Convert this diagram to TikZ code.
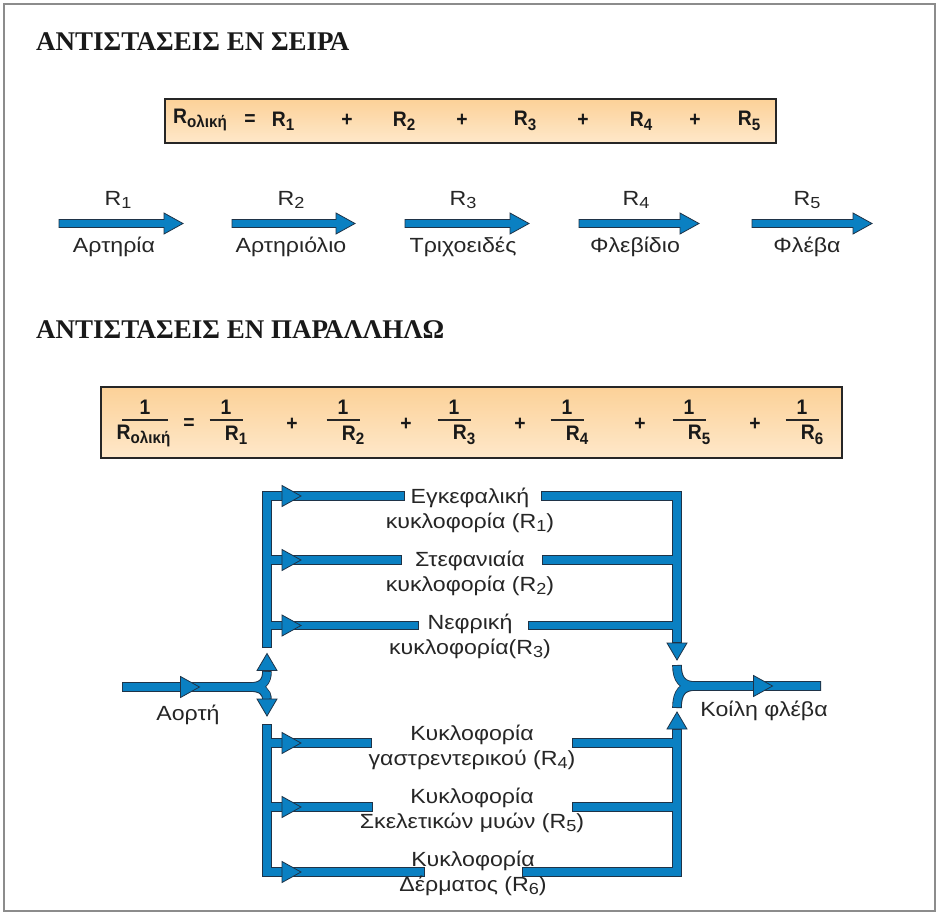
\documentclass[tikz,border=0pt]{standalone}
\usepackage{fontspec}
\setmainfont{Liberation Sans}
\newfontfamily\titlefont{Liberation Serif}
\newfontfamily\lblfont{Liberation Sans}[FakeStretch=1.13]
\newfontfamily\eqfont{Liberation Sans}[FakeStretch=0.92]
\definecolor{pipeblue}{HTML}{0A80C2}
\definecolor{pipeedge}{HTML}{1F3347}
\definecolor{boxtop}{HTML}{FCD198}
\definecolor{boxbot}{HTML}{FEE8CA}
\definecolor{framegray}{HTML}{8C8C8C}
\newcommand\lowsub[1]{\raisebox{-0.3ex}{\fontsize{16}{16}\selectfont #1}}
\newcommand\eqsub[1]{\raisebox{-0.4ex}{\fontsize{16.5}{16.5}\selectfont\bfseries #1}}
\tikzset{
  pipeout/.style={draw=pipeedge,line width=9.6pt},
  pipein/.style={draw=pipeblue,line width=7.8pt,shorten <=0.9pt,shorten >=0.9pt},
  head/.style={fill=pipeblue,draw=pipeedge,line width=0.8pt,line join=miter},
  lbl/.style={inner sep=0pt,font=\lblfont\fontsize{20.5}{25}\selectfont,align=center,text=black!85},
  title/.style={anchor=base west,inner sep=0pt,font=\titlefont\bfseries\fontsize{27}{27}\selectfont,text=black!90},
  eq/.style={inner sep=0pt,font=\eqfont\bfseries\fontsize{21}{21}\selectfont,text=black!90},
  eqbox/.style={draw=black!85,line width=1.3pt,top color=boxtop,bottom color=boxbot,inner sep=0pt},
  fracbar/.style={draw=black!85,line width=1.1pt},
  pics/rhead/.style={code={\draw[head] (-9.5,-10.5) -- (9.5,0) -- (-9.5,10.5) -- cycle;}},
  pics/dhead/.style={code={\draw[head] (-10,-8.5) -- (0,8.5) -- (10,-8.5) -- cycle;}},
  pics/uhead/.style={code={\draw[head] (-10,8.5) -- (0,-8.5) -- (10,8.5) -- cycle;}},
  pics/fatarrow/.style={code={\draw[head] (0,-4) -- ({#1-19},-4) -- ({#1-19},-10.5) -- (#1,0) -- ({#1-19},10.5) -- ({#1-19},4) -- (0,4) -- cycle;}}
}
\newcommand\pipenet[1]{%
  \draw[#1] (aortaL) -- (forkL) .. controls (262,687) and (267,682) .. (upL);
  \draw[#1] (forkL) .. controls (262,687) and (267,692) .. (dnL);
  \draw[#1] (lb1) -- (lc1) -- (b1L);
  \draw[#1] (b2s) -- (b2L);
  \draw[#1] (b3s) -- (b3L);
  \draw[#1] (b1R) -- (rc1) -- (rb);
  \draw[#1] (b2R) -- (j2);
  \draw[#1] (b3R) -- (j3);
  \draw[#1] (fu) .. controls (677,680) and (683,686) .. (fm) -- (veinR);
  \draw[#1] (fd) .. controls (677,692) and (683,686) .. (fm);
  \draw[#1] (lt2) -- (lc2) -- (b6L);
  \draw[#1] (b4s) -- (b4L);
  \draw[#1] (b5s) -- (b5L);
  \draw[#1] (b6R) -- (rc2) -- (ru);
  \draw[#1] (b4R) -- (j4);
  \draw[#1] (b5R) -- (j5);
}
\begin{document}
\begin{tikzpicture}[x=1pt,y=-1pt]
\useasboundingbox (0,0) rectangle (939,916);
\fill[white] (0,0) rectangle (939,916);
\draw[framegray,line width=2.5pt] (4,4) rectangle (935,911);

% titles
\node[title] (t1) at (36,50) {ΑΝΤΙΣΤΑΣΕΙΣ ΕΝ ΣΕΙΡΑ};
\node[title] (t2) at (36,338) {ΑΝΤΙΣΤΑΣΕΙΣ ΕΝ ΠΑΡΑΛΛΗΛΩ};

% series equation
\node[eqbox,minimum width=611pt,minimum height=44pt] (box1) at (470.5,121) {};
\node[eq,anchor=west] (rt1) at (173,120) {R\eqsub{ολική}};
\node[eq] (eq1) at (250,120) {=};
\node[eq] (s1) at (283,121) {R\eqsub{1}};
\node[eq] (p1) at (347,120) {+};
\node[eq] (s2) at (404,121) {R\eqsub{2}};
\node[eq] (p2) at (462,120) {+};
\node[eq] (s3) at (525,121) {R\eqsub{3}};
\node[eq] (p3) at (583,120) {+};
\node[eq] (s4) at (641,121) {R\eqsub{4}};
\node[eq] (p4) at (695,120) {+};
\node[eq] (s5) at (749,121) {R\eqsub{5}};

% series arrows
\pic at (59,223.5) {fatarrow=124};
\pic at (232,223.5) {fatarrow=123};
\pic at (405,223.5) {fatarrow=124};
\pic at (579,223.5) {fatarrow=120};
\pic at (752,223.5) {fatarrow=120};
\node[lbl] (r1) at (118,200) {R\lowsub{1}};
\node[lbl] (r2) at (291,200) {R\lowsub{2}};
\node[lbl] (r3) at (463,200) {R\lowsub{3}};
\node[lbl] (r4) at (636,200) {R\lowsub{4}};
\node[lbl] (r5) at (807,200) {R\lowsub{5}};
\node[lbl] (n1) at (114,247) {Αρτηρία};
\node[lbl] (n2) at (291,247) {Αρτηριόλιο};
\node[lbl] (n3) at (463,247) {Τριχοειδές};
\node[lbl] (n4) at (635,247) {Φλεβίδιο};
\node[lbl] (n5) at (807,247) {Φλέβα};

% parallel equation
\node[eqbox,minimum width=741pt,minimum height=71pt] (box2) at (471.5,422.5) {};
\node[eq] (f0n) at (145,407) {1};
\draw[fracbar] (122,420) -- (168,420);
\node[eq] (f0d) at (143.5,436) {R\eqsub{ολική}};
\node[eq] (eq2) at (189,424) {=};
\foreach \x/\i in {226/1,343/2,454/3,567/4,689/5,802/6}{
  \node[eq] (fn\i) at (\x,407) {1};
  \draw[fracbar] (\x-16.5,420) -- (\x+16.5,420);
  \node[eq] (fd\i) at (\x+10,435) {R\eqsub{\i}};
}
\foreach \x/\i in {292/1,406/2,520/3,640/4,755/5}{
  \node[eq] (q\i) at (\x,424) {+};
}

% network coordinates
\coordinate (aortaL) at (122,687);
\coordinate (forkL) at (250,687);
\coordinate (upL) at (267,671);
\coordinate (dnL) at (267,700);
\coordinate (lb1) at (267,648);
\coordinate (lc1) at (267,496);
\coordinate (b1L) at (405,496);
\coordinate (b2s) at (267,560);
\coordinate (b2L) at (402,560);
\coordinate (b3s) at (267,625.5);
\coordinate (b3L) at (419,625.5);
\coordinate (b1R) at (541,496);
\coordinate (rc1) at (677,496);
\coordinate (rb) at (677,643);
\coordinate (b2R) at (542,560);
\coordinate (j2) at (677,560);
\coordinate (b3R) at (528,625.5);
\coordinate (j3) at (677,625.5);
\coordinate (fu) at (677,665);
\coordinate (fd) at (677,708);
\coordinate (fm) at (695,686);
\coordinate (veinR) at (821,686);
\coordinate (lt2) at (267,724);
\coordinate (lc2) at (267,872);
\coordinate (b6L) at (425,872);
\coordinate (b4s) at (267,743);
\coordinate (b4L) at (372,743);
\coordinate (b5s) at (267,807);
\coordinate (b5L) at (373,807);
\coordinate (b6R) at (522,872);
\coordinate (rc2) at (677,872);
\coordinate (ru) at (677,729);
\coordinate (b4R) at (572,743);
\coordinate (j4) at (677,743);
\coordinate (b5R) at (572,807);
\coordinate (j5) at (677,807);

\pipenet{pipeout}
\pipenet{pipein}

% arrow heads
\pic at (190,687) {rhead};
\pic at (267,662) {uhead};
\pic at (267,707.5) {dhead};
\foreach \y in {496,560,625.5,743,807,872}{ \pic at (291.5,\y) {rhead}; }
\pic at (677,651.5) {dhead};
\pic at (677,720.5) {uhead};
\pic at (763,686) {rhead};

% labels
\node[lbl] (c1) at (470,510.5) {Εγκεφαλική\\κυκλοφορία (R\lowsub{1})};
\node[lbl] (c2) at (470,573) {Στεφανιαία\\κυκλοφορία (R\lowsub{2})};
\node[lbl] (c3) at (470,636.5) {Νεφρική\\κυκλοφορία(R\lowsub{3})};
\node[lbl] (c4) at (472,747.5) {Κυκλοφορία\\γαστρεντερικού (R\lowsub{4})};
\node[lbl] (c5) at (472,810.5) {Κυκλοφορία\\Σκελετικών μυών (R\lowsub{5})};
\node[lbl] (c6) at (473,873) {Κυκλοφορία\\Δέρματος (R\lowsub{6})};
\node[lbl] (ao) at (188,715) {Αορτή};
\node[lbl] (kf) at (764,711) {Κοίλη φλέβα};
\end{tikzpicture}
\end{document}
